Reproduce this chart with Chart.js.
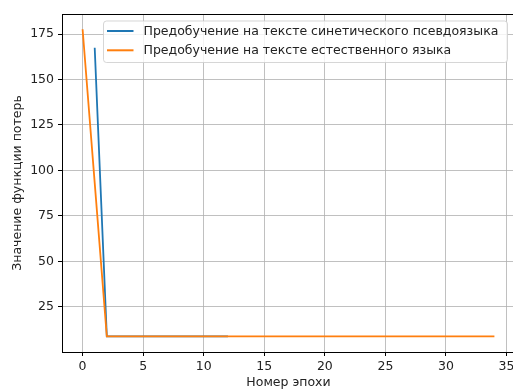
<!DOCTYPE html>
<html><head><meta charset="utf-8">
<script src="https://cdn.jsdelivr.net/npm/chart.js@4/dist/chart.umd.min.js"></script>
<style>
html,body{margin:0;padding:0;overflow:hidden;background:#fff;width:513px;height:389px}
#wrap{width:520px;height:400px;position:absolute;left:0;top:0}
</style></head>
<body><div id="wrap"><canvas id="c" width="520" height="400"></canvas></div>
<script>
// ---- data ----
const seriesLabels = [
  'Предобучение на тексте синетического псевдоязыка',
  'Предобучение на тексте естественного языка'
];
const epochsSynthetic = [1,2,3,4,5,6,7,8,9,10,11,12];
const lossSynthetic   = [167.5,8.8,8.8,8.8,8.8,8.8,8.8,8.8,8.8,8.8,8.8,8.8];
const epochsNatural = [0,1,2,3,4,5,6,7,8,9,10,11,12,13,14,15,16,17,18,19,20,21,22,23,24,25,26,27,28,29,30,31,32,33,34];
const lossNatural   = [177.6,93.2,8.8,8.8,8.8,8.8,8.8,8.8,8.8,8.8,8.8,8.8,8.8,8.8,8.8,8.8,8.8,8.8,8.8,8.8,8.8,8.8,8.8,8.8,8.8,8.8,8.8,8.8,8.8,8.8,8.8,8.8,8.8,8.8,8.8];
const xTicks = [0,5,10,15,20,25,30,35];
const yTicks = [25,50,75,100,125,150,175];
const xTitle = 'Номер эпохи';
const yTitle = 'Значение функции потерь';
const seriesColors = ['#1f77b4','#ff7f0e'];

const FONT = '"DejaVu Sans", sans-serif';
const FS = 12.5;
const toPts = (xs, ys) => xs.map((x,i)=>({x:x, y:ys[i]}));

const spinesPlugin = {
  id:'spines',
  afterDatasetsDraw(chart){
    const {ctx, chartArea:a} = chart;
    ctx.save();
    ctx.strokeStyle = '#000';
    ctx.lineWidth = 1;
    ctx.beginPath();
    ctx.moveTo(a.left, Math.round(a.top)+0.5);
    ctx.lineTo(a.right, Math.round(a.top)+0.5);
    ctx.moveTo(Math.round(a.right)+0.5, a.top);
    ctx.lineTo(Math.round(a.right)+0.5, a.bottom);
    ctx.stroke();
    ctx.restore();
  }
};

const legendPlugin = {
  id:'mplLegend',
  afterDraw(chart){
    const {ctx, chartArea:a} = chart;
    const ds = chart.data.datasets;
    ctx.save();
    ctx.font = FS + 'px ' + FONT;
    const right = a.right - 8;
    const left = 103;
    const w = right - left;
    const h = 41.5;
    const top = a.top + 6.5;
    ctx.beginPath();
    if (ctx.roundRect) ctx.roundRect(left+0.5, top+0.5, w, h, 3); else ctx.rect(left+0.5, top+0.5, w, h);
    ctx.fillStyle = 'rgba(255,255,255,0.8)';
    ctx.fill();
    ctx.strokeStyle = 'rgba(204,204,204,0.8)';
    ctx.lineWidth = 1;
    ctx.stroke();
    ds.forEach((d,i)=>{
      const cy = top + 10.5 + i*19.3;
      ctx.strokeStyle = d.borderColor;
      ctx.lineWidth = 2;
      ctx.beginPath();
      ctx.moveTo(left+4, cy);
      ctx.lineTo(left+30.5, cy);
      ctx.stroke();
      ctx.fillStyle = '#222';
      ctx.textBaseline = 'middle';
      ctx.textAlign = 'left';
      ctx.fillText(d.label, left+40.5, cy+0.5);
    });
    ctx.restore();
  }
};

const bgPlugin = {
  id:'bg',
  beforeDraw(chart){
    const ctx = chart.ctx;
    ctx.save(); ctx.fillStyle='#fff'; ctx.fillRect(0,0,chart.width,chart.height); ctx.restore();
  }
};

new Chart(document.getElementById('c'), {
  type:'line',
  data:{
    datasets:[
      {label:seriesLabels[0], data:toPts(epochsSynthetic, lossSynthetic), borderColor:seriesColors[0], backgroundColor:seriesColors[0], borderWidth:1.8, pointRadius:0, tension:0, order:2},
      {label:seriesLabels[1], data:toPts(epochsNatural, lossNatural), borderColor:seriesColors[1], backgroundColor:seriesColors[1], borderWidth:1.8, pointRadius:0, tension:0, order:1}
    ]
  },
  options:{
    responsive:false,
    animation:false,
    devicePixelRatio:1,
    layout:{padding:{top:14, right:5, left:0, bottom:0}},
    plugins:{legend:{display:false}, tooltip:{enabled:false}},
    scales:{
      x:{
        type:'linear', min:-1.7, max:35.7,
        afterBuildTicks(s){ s.ticks = xTicks.map(v=>({value:v})); },
        afterFit(s){ s.height = 48; },
        grid:{color:'#b0b0b0', lineWidth:0.8, tickColor:'#000', tickLength:4, tickWidth:1},
        border:{color:'#000', width:1},
        ticks:{color:'#222', font:{family:FONT, size:FS}, padding:3, maxRotation:0, autoSkip:false},
        title:{display:true, text:xTitle, color:'#222', font:{family:FONT, size:FS}, padding:{top:4, bottom:10}}
      },
      y:{
        type:'linear', min:0.25, max:186,
        afterBuildTicks(s){ s.ticks = yTicks.map(v=>({value:v})); },
        afterFit(s){ s.width = 62; },
        grid:{color:'#b0b0b0', lineWidth:0.8, tickColor:'#000', tickLength:4, tickWidth:1},
        border:{color:'#000', width:1},
        ticks:{color:'#222', font:{family:FONT, size:FS}, padding:4, autoSkip:false},
        title:{display:true, text:yTitle, color:'#222', font:{family:FONT, size:FS}, padding:{top:10, bottom:4}}
      }
    }
  },
  plugins:[bgPlugin, spinesPlugin, legendPlugin]
});
</script>
</body></html>
